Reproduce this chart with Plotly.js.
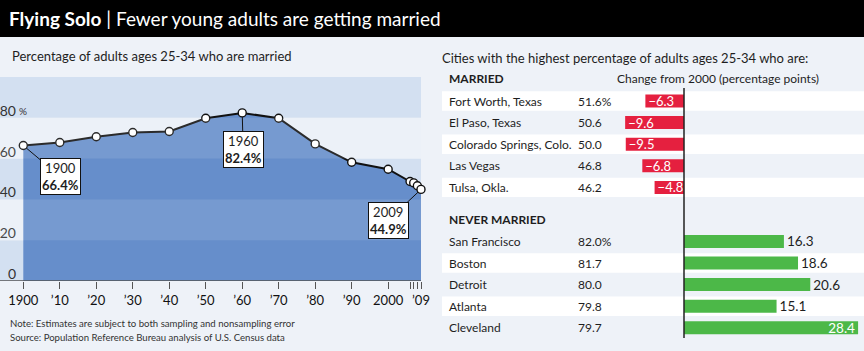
<!DOCTYPE html>
<html>
<head>
<meta charset="utf-8">
<script src="https://cdn.plot.ly/plotly-3.0.1.min.js"></script>
<style>html,body{margin:0;padding:0;background:#eef2f8;}#chart{width:864px;height:351px;}</style>
</head>
<body>
<div id="chart"></div>
<script>
// ---------- DATA ----------
const years = [1900, 1910, 1920, 1930, 1940, 1950, 1960, 1970, 1980, 1990, 2000, 2006, 2007, 2008, 2009];
const marriedShare = [66.4, 67.9, 70.7, 72.8, 73.3, 79.8, 82.4, 79.8, 67.2, 58.2, 54.8, 48.8, 48.1, 46.7, 44.9];
const calloutYears = [1900, 1960, 2009];
const xTickVals = [1900, 1910, 1920, 1930, 1940, 1950, 1960, 1970, 1980, 1990, 2000, 2006, 2007, 2008, 2009];
const xTickText = ['1900', '\u201910', '\u201920', '\u201930', '\u201940', '\u201950', '\u201960', '\u201970', '\u201980', '\u201990', '2000', '', '', '', '\u201909'];
const yTickVals = [0, 20, 40, 60, 80];
const yTickText = ['0', '20', '40', '60', '80'];

const marriedCities = ['Fort Worth, Texas', 'El Paso, Texas', 'Colorado Springs, Colo.', 'Las Vegas', 'Tulsa, Okla.'];
const marriedPct = [51.6, 50.6, 50.0, 46.8, 46.2];
const marriedChange = [-6.3, -9.6, -9.5, -6.8, -4.8];
const neverCities = ['San Francisco', 'Boston', 'Detroit', 'Atlanta', 'Cleveland'];
const neverPct = [82.0, 81.7, 80.0, 79.8, 79.7];
const neverChange = [16.3, 18.6, 20.6, 15.1, 28.4];

// ---------- LAYOUT HELPERS ----------
const W = 864, H = 351;
const px = v => v / W;
const py = v => 1 - v / H;
const FONT = 'Lato, "Open Sans", sans-serif';
const INK = '#1e1e1e';

// left chart geometry
const yearPx = (421 - 23.3) / (2009 - 1900);
const xRange = [2009 - (421 - 17) / yearPx, 2009];

// right table geometry: row r centred at 101 + 21.6*r px
const rowPx = r => 101 + 21.6 * r;
const rTop = -1.9, rBot = 11.5;
const marriedRows = marriedCities.map((_, i) => i);
const neverRows = neverCities.map((_, i) => i + 6.5);
const zeroPx = 684, unitPx = 6.13;
const x2Range = [(442 - zeroPx) / unitPx, (W - zeroPx) / unitPx];

const fmtChange = v => (v < 0 ? '\u2212' : '') + Math.abs(v).toFixed(1);

const traces = [
  {
    type: 'scatter', x: years, y: marriedShare, xaxis: 'x', yaxis: 'y',
    mode: 'lines+markers', fill: 'tozeroy', fillcolor: '#668ecb',
    line: {color: '#111', width: 2},
    marker: {color: '#fff', size: 8, line: {color: '#111', width: 1.4}},
    cliponaxis: false, hoverinfo: 'skip'
  },
  {
    type: 'bar', orientation: 'h', xaxis: 'x2', yaxis: 'y2',
    y: marriedRows, x: marriedChange, width: 0.6,
    marker: {color: '#e5203f'},
    text: marriedChange.map(fmtChange), textposition: 'inside', insidetextanchor: 'end',
    insidetextfont: {family: FONT, size: 13, color: '#fff'},
    constraintext: 'none', cliponaxis: false, hoverinfo: 'skip'
  },
  {
    type: 'bar', orientation: 'h', xaxis: 'x2', yaxis: 'y2',
    y: neverRows, x: neverChange, width: 0.6,
    marker: {color: '#4cb848'},
    text: neverChange.map(fmtChange),
    textposition: neverChange.map(v => v > 25 ? 'inside' : 'outside'),
    insidetextanchor: 'end',
    insidetextfont: {family: FONT, size: 13.5, color: '#fff'},
    outsidetextfont: {family: FONT, size: 13.5, color: INK},
    constraintext: 'none', cliponaxis: false, hoverinfo: 'skip'
  }
];

const shapes = [];
// header bar
shapes.push({type: 'rect', xref: 'paper', yref: 'paper', x0: 0, x1: 1, y0: py(37), y1: 1, fillcolor: '#000', line: {width: 0}, layer: 'below'});
// bands behind left chart
for (let i = 0; i < 5; i++) {
  const lo = i * 20, hi = lo + 20;
  const dark = (i % 2 === 0);
  shapes.push({type: 'rect', xref: 'paper', yref: 'y', x0: 0, x1: px(421), y0: lo, y1: hi,
    fillcolor: dark ? '#d3e0f1' : '#eaf0f8', line: {width: 0}, layer: 'below'});
  if (!dark) {
    shapes.push({type: 'rect', xref: 'paper', yref: 'y', x0: 0, x1: px(421), y0: lo, y1: hi,
      fillcolor: 'rgba(255,255,255,0.11)', line: {width: 0}, layer: 'above'});
  }
}
// baseline
shapes.push({type: 'line', xref: 'paper', yref: 'y', x0: 0, x1: px(421), y0: 0, y1: 0, line: {color: '#555', width: 1.5}, layer: 'above'});
// row stripes
marriedRows.concat(neverRows).forEach((r, i) => {
  if (i % 2 === 0) {
    shapes.push({type: 'rect', xref: 'paper', yref: 'y2', x0: px(442), x1: 1, y0: r - 0.45, y1: r + 0.45,
      fillcolor: '#ffffff', line: {width: 0}, layer: 'below'});
  }
});
// zero line
shapes.push({type: 'line', xref: 'x2', yref: 'paper', x0: 0, x1: 0, y0: py(88), y1: py(338), line: {color: '#222', width: 1.5}, layer: 'above'});

const annotations = [];
const txt = (text, x, y, opts) => Object.assign({text, x, y, xref: 'paper', yref: 'paper', showarrow: false,
  xanchor: 'left', yanchor: 'middle', font: {family: FONT, size: 12, color: INK}}, opts || {});

annotations.push(txt('<b>Flying Solo</b> | Fewer young adults are getting married', px(7), py(19), {font: {family: FONT, size: 19, color: '#fff'}}));
annotations.push(txt('Percentage of adults ages 25-34 who are married', px(10), py(56), {font: {family: FONT, size: 13, color: INK}}));
annotations.push(txt('Cities with the highest percentage of adults ages 25-34 who are:', px(440), py(58), {font: {family: FONT, size: 13, color: INK}}));
annotations.push(txt('<b>MARRIED</b>', px(447), py(79), {font: {family: FONT, size: 12, color: INK}}));
annotations.push(txt('Change from 2000 (percentage points)', px(718), py(79), {xanchor: 'center', font: {family: FONT, size: 12, color: INK}}));
annotations.push(txt('<b>NEVER MARRIED</b>', px(447), py(219), {font: {family: FONT, size: 12, color: INK}}));
annotations.push(txt('Note: Estimates are subject to both sampling and nonsampling error', px(8), py(323), {font: {family: FONT, size: 9.6, color: '#333'}}));
annotations.push(txt('Source: Population Reference Bureau analysis of U.S. Census data', px(8), py(337), {font: {family: FONT, size: 9.6, color: '#333'}}));
// % after 80
annotations.push({text: '%', x: px(17), y: 80, xref: 'paper', yref: 'y', yshift: 7, showarrow: false, xanchor: 'left', yanchor: 'middle', font: {family: FONT, size: 10, color: '#333'}});

// table text
marriedCities.forEach((c, i) => {
  annotations.push(Object.assign(txt(c, px(447), marriedRows[i]), {yref: 'y2'}));
  annotations.push(Object.assign(txt(marriedPct[i].toFixed(1) + (i === 0 ? '%' : ''), px(575.5), marriedRows[i]), {yref: 'y2'}));
});
neverCities.forEach((c, i) => {
  annotations.push(Object.assign(txt(c, px(447), neverRows[i]), {yref: 'y2'}));
  annotations.push(Object.assign(txt(neverPct[i].toFixed(1) + (i === 0 ? '%' : ''), px(575.5), neverRows[i]), {yref: 'y2'}));
});

// callouts
const calloutOffsets = {1900: [37, 31], 1960: [1, 37], 2009: [-33, 31]};
calloutYears.forEach(yr => {
  const v = marriedShare[years.indexOf(yr)];
  annotations.push({
    x: yr, y: v, xref: 'x', yref: 'y',
    text: yr + '<br><b>' + v.toFixed(1) + '%</b>',
    showarrow: true, arrowhead: 0, arrowwidth: 1, arrowcolor: '#111', standoff: 4,
    ax: calloutOffsets[yr][0], ay: calloutOffsets[yr][1],
    bgcolor: '#fff', bordercolor: '#111', borderwidth: 1, borderpad: 1,
    font: {family: FONT, size: 13, color: INK}
  });
});

const layout = {
  width: W, height: H,
  margin: {l: 0, r: 0, t: 0, b: 0, pad: 0},
  paper_bgcolor: '#eef2f8', plot_bgcolor: 'rgba(0,0,0,0)',
  showlegend: false, barmode: 'overlay',
  font: {family: FONT, color: INK},
  xaxis: {domain: [px(17), px(421)], range: xRange, showgrid: false, zeroline: false, showline: false,
    tickmode: 'array', tickvals: xTickVals, ticktext: xTickText, ticks: 'outside', ticklen: 7, tickwidth: 1, tickcolor: '#555',
    tickfont: {family: FONT, size: 13, color: '#111'}, fixedrange: true},
  yaxis: {domain: [py(281), py(77)], range: [0, 100], showgrid: false, zeroline: false, showline: false,
    tickmode: 'array', tickvals: yTickVals, ticktext: yTickText, ticks: '', ticklabelshift: -7, ticklabelstandoff: 0,
    tickfont: {family: FONT, size: 14, color: '#333'}, fixedrange: true},
  xaxis2: {domain: [px(442), 1], range: x2Range, visible: false, fixedrange: true},
  yaxis2: {domain: [py(rowPx(rBot)), py(rowPx(rTop))], range: [rBot, rTop], visible: false, fixedrange: true},
  shapes, annotations
};

Plotly.newPlot('chart', traces, layout, {staticPlot: true, displayModeBar: false});
</script>
</body>
</html>
